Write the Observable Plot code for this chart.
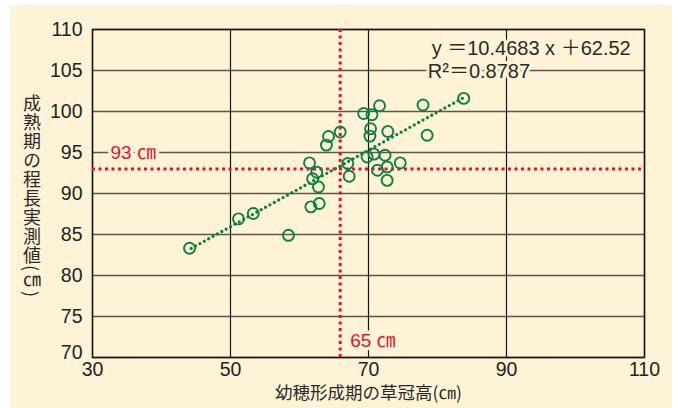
<!DOCTYPE html>
<html><head><meta charset="utf-8">
<script src="https://cdn.jsdelivr.net/npm/d3@7"></script>
<script src="https://cdn.jsdelivr.net/npm/@observablehq/plot@0.6"></script>
<style>
body{margin:0;background:#fff;}
#wrap{position:relative;width:678px;height:408px;overflow:hidden;}
#bg{position:absolute;left:10px;top:5px;width:662px;height:403px;background:#fef3d6;}
#chart{position:absolute;left:0;top:0;}
#ytitle{position:absolute;left:23px;top:94px;writing-mode:vertical-rl;font-size:18px;font-family:"Noto Sans CJK JP",sans-serif;color:#2a2a2a;line-height:1;letter-spacing:1px;}
</style>
</head><body>
<div id="wrap"><div id="bg"></div><div id="chart"></div><div id="ytitle"></div></div>
<script>
// data
const plantHeight = [83.8, 77.9, 71.6, 69.3, 70.5, 70.3, 70.2, 72.8, 78.5, 65.9, 64.2, 63.9, 69.8, 70.8, 72.4, 74.6, 72.7, 71.3, 72.7, 67.0, 67.2, 61.45, 62.5, 61.9, 62.75, 61.65, 62.86, 44.06, 51.16, 53.3, 58.4];
const culmLength  = [101.6, 100.8, 100.7, 99.76, 99.6, 97.9, 97.0, 97.56, 97.1, 97.5, 96.95, 95.9, 94.46, 94.8, 94.67, 93.73, 93.24, 92.84, 91.6, 93.66, 92.1, 93.73, 92.6, 91.8, 90.8, 88.37, 88.78, 83.33, 86.9, 87.56, 84.9];
const trendX = [44.3, 83.8];
const trendY = [83.3, 101.7];
const xTicks = [30, 50, 70, 90, 110];
const yTicks = [70, 75, 80, 85, 90, 95, 100, 105, 110];
const thresholdX = 65.9;
const thresholdY = 93;
const labelThX = "65 ㎝";
const labelThY = "93 ㎝";
const equation = "y ＝10.4683 x ＋62.52";
const r2 = "R²＝0.8787";
const xTitle = "幼穂形成期の草冠高(㎝)";
const yTitle = "成熟期の程長実測値(㎝)";

const points = plantHeight.map((x, i) => ({x, y: culmLength[i]}));
const trend = trendX.map((x, i) => ({x, y: trendY[i]}));
const cream = "#fef3d6";
const green = "#0b8040";
const red = "#e8102e";

const chart = Plot.plot({
  width: 678, height: 408,
  marginLeft: 92, marginRight: 34, marginTop: 29, marginBottom: 51,
  style: {background: "transparent", fontFamily: "'Liberation Sans','Noto Sans CJK JP',sans-serif", fontSize: "19px", color: "#222"},
  x: {domain: [30, 110]},
  y: {domain: [70, 110]},
  marks: [
    Plot.ruleY(yTicks, {stroke: "#5e5548", strokeWidth: 1.6}),
    Plot.ruleX(xTicks, {stroke: "#1a1410", strokeWidth: 1.2}),
    Plot.frame({stroke: "#1a1410", strokeWidth: 1.5}),
    Plot.ruleX([thresholdX], {stroke: red, strokeWidth: 3, strokeDasharray: "3,3.5"}),
    Plot.ruleY([thresholdY], {stroke: red, strokeWidth: 3, strokeDasharray: "3,3.5"}),
    Plot.line(trend, {x: "x", y: "y", stroke: green, strokeWidth: 3.3, strokeDasharray: "0,5", strokeLinecap: "round"}),
    Plot.dot(points, {x: "x", y: "y", r: 5.5, stroke: green, strokeWidth: 1.9, fill: "none"}),
    Plot.text([labelThY], {x: 30, y: 95, dx: 18, textAnchor: "start", fill: red, fontSize: 19, stroke: cream, strokeWidth: 7, paintOrder: "stroke"}),
    Plot.text([labelThX], {x: thresholdX, y: 72, dx: 10, textAnchor: "start", fill: red, fontSize: 19, stroke: cream, strokeWidth: 7, paintOrder: "stroke"}),
    Plot.text([equation], {x: 108, y: 107.7, textAnchor: "end", fill: "#2a2a2a", fontSize: 20, stroke: cream, strokeWidth: 6, paintOrder: "stroke"}),
    Plot.text([r2], {x: 78.6, y: 105, dy: 1, textAnchor: "start", fill: "#2a2a2a", fontSize: 20, stroke: cream, strokeWidth: 6, paintOrder: "stroke"}),
    Plot.axisY(yTicks.filter(d => d !== 70), {tickSize: 0, tickPadding: 10, fontSize: 19.5, label: null}),
    Plot.axisY([70], {tickSize: 0, tickPadding: 10, fontSize: 19.5, dy: -5, label: null}),
    Plot.axisX(xTicks, {tickSize: 0, tickPadding: 5, fontSize: 19.5, label: null}),
    Plot.text([xTitle], {frameAnchor: "bottom", lineAnchor: "middle", dy: 36, fontSize: 17.5, fill: "#2a2a2a", fontFamily: "'Noto Sans CJK JP',sans-serif"})
  ]
});
document.getElementById("chart").appendChild(chart);
document.getElementById("ytitle").textContent = yTitle;
</script>
</body></html>
